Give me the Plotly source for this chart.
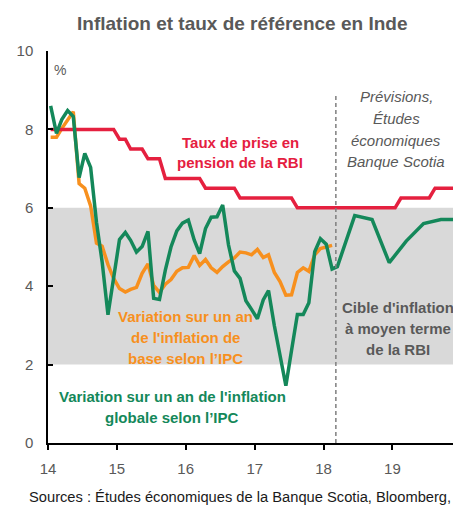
import pandas as pd
import plotly.graph_objects as go

# ---- data -------------------------------------------------------------
# RBI repo rate, monthly, Jan 2014 - Dec 2019 (2018-2019: forecast)
repo_rate = (
    [8.0] * 12
    + [7.75, 7.75, 7.5, 7.5, 7.5, 7.25, 7.25, 7.25, 6.75, 6.75, 6.75, 6.75]
    + [6.75, 6.75, 6.75, 6.5, 6.5, 6.5, 6.5, 6.5, 6.5, 6.25, 6.25, 6.25]
    + [6.25] * 7 + [6.0] * 5
    + [6.0] * 12
    + [6.0, 6.25, 6.25, 6.25, 6.25, 6.25, 6.25, 6.5, 6.5, 6.5, 6.5, 6.5]
)

# Headline CPI, y/y %, monthly Jan 2014 - Feb 2018
cpi_headline = [
    8.6, 7.9, 8.25, 8.48, 8.33, 6.77, 7.39, 7.03, 5.63, 4.62, 3.27, 4.28,
    5.19, 5.37, 5.17, 4.87, 5.01, 5.40, 3.69, 3.66, 4.41, 5.0, 5.41, 5.61,
    5.69, 5.18, 4.83, 5.47, 5.76, 5.77, 6.07, 5.05, 4.39, 4.20, 3.63, 3.41,
    3.17, 3.65, 3.89, 2.99, 2.18, 1.46, 2.36, 3.28, 3.28, 3.58, 4.88, 5.21,
    5.07, 4.44,
]
# Headline CPI forecast, quarter-end months
forecast_months = ["2018-03", "2018-06", "2018-09", "2018-12",
                   "2019-03", "2019-06", "2019-09", "2019-12"]
cpi_forecast = [4.5, 5.8, 5.7, 4.6, 5.15, 5.6, 5.7, 5.7]

# Core CPI, y/y %, monthly Jan 2014 - Feb 2018
cpi_core = [
    7.8, 7.8, 8.02, 8.22, 8.45, 6.62, 6.5, 6.05, 5.1, 5.02, 4.55, 4.2,
    3.94, 3.85, 3.92, 3.97, 4.33, 4.57, 4.02, 3.84, 4.05, 4.17, 4.38, 4.47,
    4.48, 4.78, 4.53, 4.68, 4.47, 4.35, 4.5, 4.62, 4.72, 4.87, 4.85, 4.8,
    4.94, 4.73, 4.8, 4.35, 4.12, 3.77, 3.78, 4.35, 4.47, 4.38, 4.8, 4.96,
    5.0, 5.04,
]

target_band = (2, 6)
forecast_start = "2018-03-07"
year_ticks = ["2014", "2015", "2016", "2017", "2018", "2019"]
year_labels = ["14", "15", "16", "17", "18", "19"]


def mid_month(start, n):
    return pd.date_range(start, periods=n, freq="MS") + pd.Timedelta(days=14)


repo_dates = mid_month("2014-01-01", len(repo_rate))
cpi_dates = mid_month("2014-01-01", len(cpi_headline))
core_dates = mid_month("2014-01-01", len(cpi_core))
fc_dates = pd.to_datetime([m + "-15" for m in forecast_months])
headline_dates = list(cpi_dates) + list(fc_dates)
headline_vals = cpi_headline + cpi_forecast

# ---- style ------------------------------------------------------------
FONT = "Liberation Sans, Arial, sans-serif"
RED = "#E5203F"
ORANGE = "#F7901E"
GREEN = "#14885A"
GREY_TXT = "#595959"
W, H = 453, 514
ML, MR, MT, MB = 48, 0, 51, 71
PW, PH = W - ML - MR, H - MT - MB

fig = go.Figure()

fig.add_trace(go.Scatter(x=core_dates, y=cpi_core, mode="lines",
                         line=dict(color=ORANGE, width=3.5), hoverinfo="skip"))
fig.add_trace(go.Scatter(x=repo_dates, y=repo_rate, mode="lines",
                         line=dict(color=RED, width=3.5), hoverinfo="skip"))
fig.add_trace(go.Scatter(x=headline_dates, y=headline_vals, mode="lines",
                         line=dict(color=GREEN, width=3.5), hoverinfo="skip"))

# inflation target band
fig.add_shape(type="rect", xref="paper", yref="y", x0=0, x1=1,
              y0=target_band[0], y1=target_band[1],
              fillcolor="#D9D9D9", line=dict(width=0), layer="below")
# start of forecast period
fig.add_shape(type="line", xref="x", yref="y", x0=forecast_start, x1=forecast_start,
              y0=0, y1=8.9, line=dict(color="#7F7F7F", width=1.5, dash="4px,3px"))


def label(text, px, py, color, size=15, bold=True, italic=False, anchor="center"):
    t = text
    if bold:
        t = "<b>" + t + "</b>"
    if italic:
        t = "<i>" + t + "</i>"
    fig.add_annotation(text=t, xref="paper", yref="paper",
                       x=(px - ML) / PW, y=(H - MB - py) / PH,
                       xanchor=anchor, yanchor="middle", showarrow=False,
                       font=dict(family=FONT, size=size, color=color))


label("Inflation et taux de référence en Inde", 242, 24, GREY_TXT, size=19)
label("%", 60, 70, GREY_TXT, size=14, bold=False)

label("Taux de prise en", 240, 142, RED)
label("pension de la RBI", 240, 162, RED)

label("Variation sur un an", 185, 316, ORANGE)
label("de l'inflation de", 185, 337, ORANGE)
label("base selon l’IPC", 185, 358, ORANGE)

label("Variation sur un an de l'inflation", 172, 396, GREEN)
label("globale selon l’IPC", 172, 417, GREEN)

label("Cible d'inflation", 398, 307, GREY_TXT)
label("à moyen terme", 398, 328, GREY_TXT)
label("de la RBI", 398, 349, GREY_TXT)

for i, line in enumerate(["Prévisions,", "Études", "économiques", "Banque Scotia"]):
    label(line, 396, 97 + 21.5 * i, "#595959", size=15, bold=False, italic=True)

label("Sources : Études économiques de la Banque Scotia, Bloomberg,", 27, 497,
      "#1a1a1a", size=14.7, bold=False, anchor="left")

fig.update_layout(
    width=W, height=H,
    margin=dict(l=ML, r=MR, t=MT, b=MB),
    paper_bgcolor="white", plot_bgcolor="white",
    showlegend=False,
    font=dict(family=FONT, color=GREY_TXT),
)
fig.update_xaxes(
    type="date", range=["2014-01-01", "2019-11-18"],
    tickvals=year_ticks, ticktext=year_labels,
    ticks="outside", ticklen=5, tickwidth=1.5, tickcolor="black",
    showline=True, linecolor="black", linewidth=1.5,
    showgrid=False, zeroline=False,
    tickfont=dict(family=FONT, size=15, color=GREY_TXT),
    ticklabelstandoff=6,
)
fig.update_yaxes(
    range=[0, 10], tickvals=[0, 2, 4, 6, 8, 10],
    ticks="inside", ticklen=5, tickwidth=1.5, tickcolor="black",
    showline=True, linecolor="black", linewidth=1.5,
    showgrid=False, zeroline=False,
    tickfont=dict(family=FONT, size=15, color=GREY_TXT),
    ticklabelstandoff=10,
)

fig.write_html("out.html")
